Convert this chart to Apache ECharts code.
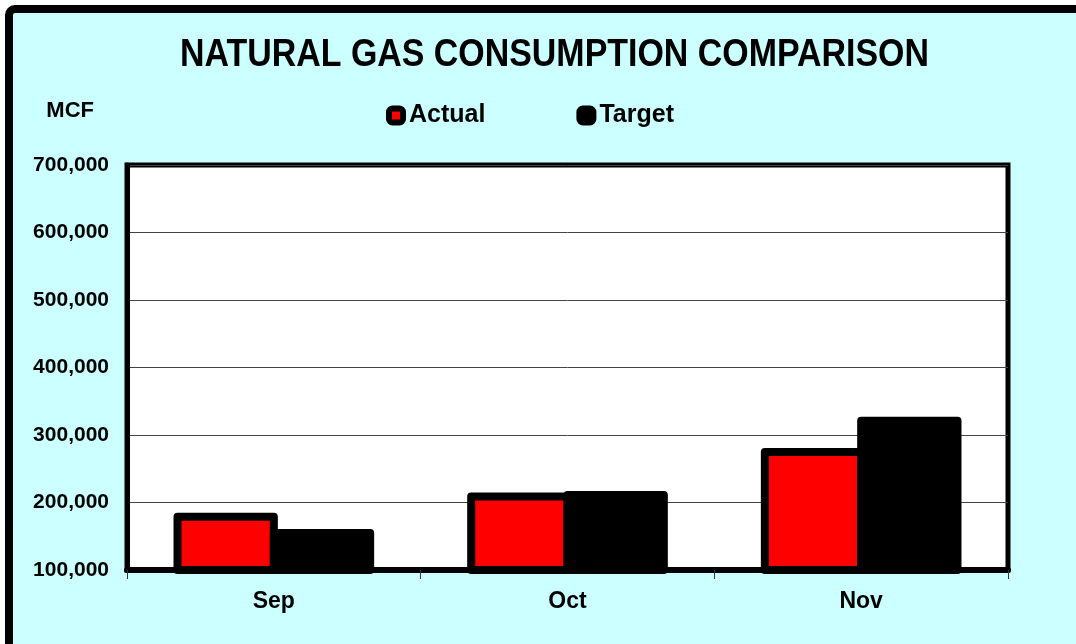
<!DOCTYPE html>
<html>
<head>
<meta charset="utf-8">
<script src="https://cdn.jsdelivr.net/npm/echarts@6/dist/echarts.min.js"></script>
<style>
  html, body { margin: 0; padding: 0; background: #ffffff; }
  #gas { width: 1076px; height: 644px; }
</style>
</head>
<body>
<div id="gas"></div>
<script>
 // months and MCF values
 var months = ['Sep', 'Oct', 'Nov'];
 var actual = [179000, 209000, 275000];
 var target = [155000, 211000, 321000];
 var chartTitle = 'NATURAL GAS CONSUMPTION COMPARISON';
 var axisMin = 100000;

 var gasChart = echarts.init(document.getElementById('gas'), null, { renderer: 'canvas' });
 var bold = { fontFamily: 'Liberation Sans', fontWeight: 'bold', color: '#000' };

 // excel style bars: border stroked on the bar edge (echarts bar insets it)
 function barRenderer(side, fill) {
     return function (params, api) {
         var top = api.coord([api.value(0), api.value(1)]);
         var base = api.coord([api.value(0), axisMin]);
         var w = api.size([1, 0])[0] * 0.328;
         var x = side < 0 ? top[0] - w : top[0];
         return {
             type: 'rect',
             shape: { x: x, y: top[1], width: w, height: base[1] - top[1] },
             style: { fill: fill, stroke: '#000', lineWidth: 8, lineJoin: 'round' }
         };
     };
 }

 option = {
     backgroundColor: '#ffffff',
     animation: false,
     graphic: [{
         type: 'rect',
         z: -10,
         shape: { x: 9, y: 9, width: 1200, height: 1000, r: 6 },
         style: { fill: '#ccffff', stroke: '#000', lineWidth: 8 }
     }, {
         // narrow bold title (no condensed font installed, so squeeze it)
         type: 'text',
         x: 180,
         y: 36,
         scaleX: 0.87,
         z: 10,
         style: {
             text: chartTitle,
             x: 0,
             y: 0,
             font: 'bold 39px "Liberation Sans"',
             fill: '#000',
             textVerticalAlign: 'top'
         }
     }],
     legend: {
         left: 386,
         top: 103,
         padding: 0,
         itemWidth: 14,
         itemHeight: 14,
         itemGap: 91,
         icon: 'roundRect',
         itemStyle: { borderColor: '#000', borderWidth: 6 },
         textStyle: Object.assign({ fontSize: 25, padding: [0, 0, 0, 1] }, bold),
         data: ['Actual', 'Target']
     },
     grid: {
         left: 127,
         right: 68,
         top: 165,
         bottom: 74,
         show: true,
         backgroundColor: '#ffffff',
         borderColor: '#000',
         borderWidth: 5
     },
     xAxis: {
         type: 'category',
         data: months,
         axisLine: { lineStyle: { color: '#000', width: 6 } },
         axisTick: { show: true, inside: false, length: 9, lineStyle: { color: '#333', width: 1 } },
         axisLabel: Object.assign({ fontSize: 23, margin: 20 }, bold)
     },
     yAxis: {
         type: 'value',
         min: axisMin,
         max: 700000,
         interval: 100000,
         name: 'MCF',
         nameLocation: 'end',
         nameGap: 54,
         nameTextStyle: Object.assign({ fontSize: 22, align: 'right', verticalAlign: 'middle', padding: [0, 33, 0, 0] }, bold),
         axisLine: { show: true, lineStyle: { color: '#000', width: 5 } },
         axisTick: { show: false },
         splitLine: { lineStyle: { color: '#444', width: 1 } },
         axisLabel: Object.assign({
             fontSize: 21,
             margin: 18,
             formatter: function (v) { return v.toLocaleString('en-US'); }
         }, bold)
     },
     series: [{
         name: 'Actual',
         type: 'custom',
         renderItem: barRenderer(-1, '#ff0000'),
         encode: { x: 0, y: 1 },
         itemStyle: { color: '#ff0000' },
         data: actual.map(function (v, i) { return [i, v]; })
     }, {
         name: 'Target',
         type: 'custom',
         renderItem: barRenderer(1, '#000000'),
         encode: { x: 0, y: 1 },
         itemStyle: { color: '#000000' },
         data: target.map(function (v, i) { return [i, v]; })
     }]
 };
 gasChart.setOption(option);
 window.addEventListener('resize', gasChart.resize);
</script>
</body>
</html>
